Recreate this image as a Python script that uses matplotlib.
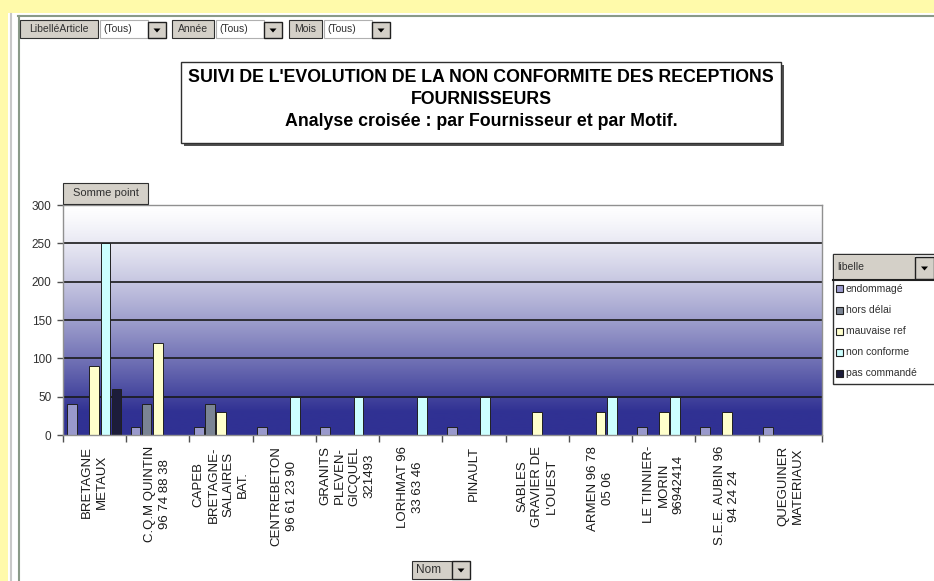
import matplotlib.pyplot as plt
import matplotlib.patches as mpatches
import numpy as np

plt.rcParams['font.family'] = ['Liberation Sans', 'DejaVu Sans']

W, H = 934, 581

# ---------------------- data ----------------------
fournisseurs = ["BRETAGNE\nMETAUX", "C.Q.M QUINTIN\n96 74 88 38", "CAPEB\nBRETAGNE-\nSALAIRES\nBAT.",
                "CENTREBETON\n96 61 23 90", "GRANITS\nPLEVEN-\nGICQUEL\n321493", "LORHMAT 96\n33 63 46",
                "PINAULT", "SABLES\nGRAVIER DE\nL'OUEST", "ARMEN 96 78\n05 06",
                "LE TINNIER-\nMORIN\n96942414", "S.E.E. AUBIN 96\n94 24 24", "QUEGUINER\nMATERIAUX"]
motifs = ["endommagé", "hors délai", "mauvaise ref", "non conforme", "pas commandé"]
endommage = [40, 10, 10, 10, 10, 0, 10, 0, 0, 10, 10, 10]
hors_delai = [0, 40, 40, 0, 0, 0, 0, 0, 0, 0, 0, 0]
mauvaise_ref = [90, 120, 30, 0, 0, 0, 0, 30, 30, 30, 30, 0]
non_conforme = [250, 0, 0, 50, 50, 50, 50, 0, 50, 50, 0, 0]
pas_commande = [60, 0, 0, 0, 0, 0, 0, 0, 0, 0, 0, 0]
series = [endommage, hors_delai, mauvaise_ref, non_conforme, pas_commande]
couleurs = ['#9999CC', '#7A8494', '#FFFFCC', '#CCFFFF', '#1C1C3A']
yticks = [0, 50, 100, 150, 200, 250, 300]


def fx(x):
    return x / W


def fy(y):
    return 1 - y / H


def box(fig, x0, y0, x1, y1, fc, ec='#404040', lw=0.8, z=5):
    r = mpatches.Rectangle((fx(x0), fy(y1)), fx(x1 - x0), (y1 - y0) / H, transform=fig.transFigure,
                           facecolor=fc, edgecolor=ec, linewidth=lw, zorder=z)
    fig.patches.append(r)


def dropdown(fig, x0, y0, x1, y1):
    # small grey button with a black arrow
    box(fig, x0, y0, x1, y1, '#D4D0C8', ec='#202020', lw=1.0)
    cx, cy = (x0 + x1) / 2, (y0 + y1) / 2
    tri = mpatches.Polygon([(fx(cx - 3.5), fy(cy - 1.5)), (fx(cx + 3.5), fy(cy - 1.5)), (fx(cx), fy(cy + 2.5))],
                           closed=True, transform=fig.transFigure, facecolor='black', edgecolor='none', zorder=6)
    fig.patches.append(tri)


fig = plt.figure(figsize=(W / 100, H / 100), dpi=100)
fig.patch.set_facecolor('#FFFAAA')

# white sheet + borders (kept behind the axes)
box(fig, 8, 13, W + 2, H + 2, 'white', ec='none', z=-10)
fig.add_artist(plt.Line2D([fx(11), fx(11)], [fy(14), 0], color='#C8C8C8', lw=1.5, zorder=-5))
fig.add_artist(plt.Line2D([fx(18.5), fx(18.5)], [fy(16), 0], color='#8A9A88', lw=1.5, zorder=-5))
fig.add_artist(plt.Line2D([fx(18), 1], [fy(16), fy(16)], color='#8A9A88', lw=1.5, zorder=-5))

# ---------------------- plot area ----------------------
ax = fig.add_axes([fx(62.7), fy(435), fx(822 - 62.7), (435 - 205) / H])
n = len(fournisseurs)
ax.set_xlim(0, n)
ax.set_ylim(0, 300)

# vertical gradient background, white at top to dark blue at bottom
yy = np.linspace(300, 0, 300)
t = np.clip((300 - yy) / 270, 0, 1) ** 1.3
dark = np.array([0x30, 0x31, 0x93]) / 255
col = (1 - t)[:, None] * np.ones(3) + t[:, None] * dark
ax.imshow(col[:, None, :], extent=[0, n, 0, 300], aspect='auto', zorder=0)

for v in yticks[1:-1]:
    ax.axhline(v, color='#1A1A1A', lw=1.2, zorder=1)

pitch, width = 0.175, 0.155
centers = np.arange(n) + 0.5
for s, (vals, c) in enumerate(zip(series, couleurs)):
    vals = np.array(vals)
    m = vals > 0
    ax.bar(centers[m] + (s - 2) * pitch, vals[m], width=width, color=c, edgecolor='#202020', lw=0.7, zorder=2)

for sp in ax.spines.values():
    sp.set_color('#909090')
    sp.set_linewidth(1.0)

ax.set_yticks(yticks)
ax.set_yticklabels([str(v) for v in yticks], fontsize=8.5, color='#303030')
ax.tick_params(axis='y', length=4, width=1, color='#505050', pad=4)
ax.set_xticks(centers)
ax.set_xticklabels(fournisseurs, rotation=90, fontsize=9.5, color='#1A1A1A', multialignment='center',
                   linespacing=1.3)
ax.tick_params(axis='x', length=0, pad=8)
ax.set_xticks(np.arange(n + 1), minor=True)
ax.tick_params(axis='x', which='minor', length=5, width=1, color='#505050')

# ---------------------- title box ----------------------
shadow = mpatches.Rectangle((fx(184), fy(146)), fx(600), 81 / H, transform=fig.transFigure,
                            facecolor='#505050', edgecolor='none', zorder=4)
fig.patches.append(shadow)
box(fig, 181, 62, 781, 143, 'white', ec='#303030', lw=1.0)
fig.text(fx(481), fy(77), "SUIVI DE L'EVOLUTION DE LA NON CONFORMITE DES RECEPTIONS", ha='center', va='center',
         fontsize=12.8, fontweight='bold', zorder=7)
fig.text(fx(481), fy(99), "FOURNISSEURS", ha='center', va='center', fontsize=12.8, fontweight='bold', zorder=7)
fig.text(fx(481), fy(121), "Analyse croisée : par Fournisseur et par Motif.", ha='center', va='center',
         fontsize=12.8, fontweight='bold', zorder=7)

# ---------------------- pivot field buttons ----------------------
filtres = [("LibelléArticle", 20, 98), ("Année", 172, 214), ("Mois", 289, 322)]
for nom, x0, x1 in filtres:
    box(fig, x0, 20, x1, 38, '#D4D0C8', ec='#303030')
    fig.text(fx((x0 + x1) / 2), fy(29), nom, ha='center', va='center', fontsize=7.5, color='#303030', zorder=7)
    box(fig, x1 + 2, 20, x1 + 50, 38, 'white', ec='#B0B0B0')
    fig.text(fx(x1 + 5), fy(29), "(Tous)", ha='left', va='center', fontsize=7.5, color='#303030', zorder=7)
    dropdown(fig, x1 + 50, 22, x1 + 68, 38)

box(fig, 63, 183, 148, 204, '#D4D0C8', ec='#303030')
fig.text(fx(105.5), fy(193.5), "Somme point", ha='center', va='center', fontsize=8, color='#303030', zorder=7)

box(fig, 412, 561, 452, 579, '#D4D0C8', ec='#303030')
fig.text(fx(416), fy(570), "Nom", ha='left', va='center', fontsize=8.5, color='#303030', zorder=7)
dropdown(fig, 452, 561, 470, 579)

# ---------------------- legend ----------------------
box(fig, 833, 254, 940, 384, 'white', ec='#303030', lw=1.0)
box(fig, 834, 255, 915, 279, '#D4D0C8', ec='none')
fig.add_artist(plt.Line2D([fx(833), 1], [fy(280), fy(280)], color='#202020', lw=1.5, zorder=6))
fig.text(fx(837), fy(267), "libelle", ha='left', va='center', fontsize=7.5, color='#303030', zorder=7)
dropdown(fig, 915, 257, 934, 279)
for k, (nom, c) in enumerate(zip(motifs, couleurs)):
    yc = 289 + k * 21
    box(fig, 836, yc - 3.5, 843, yc + 3.5, c, ec='#202020', lw=0.8, z=6)
    fig.text(fx(846), fy(yc), nom, ha='left', va='center', fontsize=7.5, color='#303030', zorder=7)

fig.savefig('out.png', dpi=100, facecolor=fig.get_facecolor())
